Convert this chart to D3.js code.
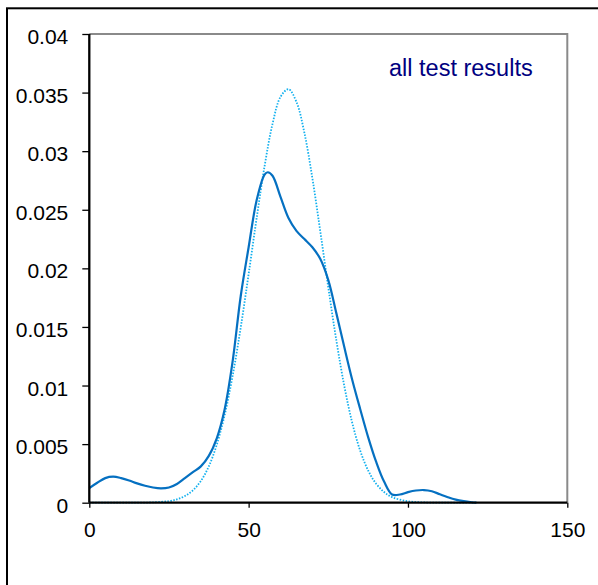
<!DOCTYPE html>
<html><head><meta charset="utf-8">
<script src="https://cdn.jsdelivr.net/npm/d3@7"></script>
<style>body{margin:0;background:#fff}svg{display:block}text{font-family:"Liberation Sans",Arial,sans-serif}</style>
</head><body><svg id="c" width="598" height="585"></svg>
<script>
const xTicks = [0, 50, 100, 150];
const yTicks = [0, 0.005, 0.01, 0.015, 0.02, 0.025, 0.03, 0.035, 0.04];
const yTickLabels = ["0", "0.005", "0.01", "0.015", "0.02", "0.025", "0.03", "0.035", "0.04"];
const legendLabel = "all test results";

// solid: kernel density of all test results
const densityX = [0, 2.5, 5, 7.5, 10, 12.5, 15, 17.5, 20, 22.5, 25, 27.5, 30, 32.5, 35, 37.5, 40, 42.5, 45, 47.5, 50, 52.5, 55, 56, 57.5, 60, 62.5, 65, 67.5, 70, 72.5, 75, 77.5, 80, 82.5, 85, 87.5, 90, 92.5, 95, 97.5, 100, 102.5, 105, 107.5, 110, 112.5, 115, 117.5, 120, 121.5];
const densityY = [0.00125, 0.0017, 0.0021, 0.00222, 0.0021, 0.0019, 0.00165, 0.00145, 0.0013, 0.00123, 0.0013, 0.0016, 0.0021, 0.0026, 0.0031, 0.0040, 0.0055, 0.0080, 0.0121, 0.0176, 0.0218, 0.0258, 0.0280, 0.0282, 0.0279, 0.0261, 0.0243, 0.0232, 0.0225, 0.0218, 0.0208, 0.0190, 0.0162, 0.0133, 0.0105, 0.0080, 0.0056, 0.0035, 0.0018, 0.0007, 0.0007, 0.0009, 0.00104, 0.00108, 0.00098, 0.00072, 0.00047, 0.00026, 0.00013, 0.00004, 0];

// dotted: fitted normal curve
const normalX = [0, 10, 15, 20, 25, 27.5, 30, 32.5, 35, 37.5, 40, 42.5, 45, 47.5, 50, 52.5, 55, 57.5, 60, 62.5, 65, 67.5, 70, 72.5, 75, 77.5, 80, 82.5, 85, 87.5, 90, 92.5, 95, 100, 105, 110, 115, 121.5];
const normalY = [0, 0.0000007, 0.000005, 0.00003, 0.00014, 0.00029, 0.00057, 0.00105, 0.00185, 0.0031, 0.00495, 0.00751, 0.01086, 0.01492, 0.01951, 0.02426, 0.02871, 0.03233, 0.03463, 0.03529, 0.03421, 0.03156, 0.0277, 0.02313, 0.01837, 0.01389, 0.00999, 0.00683, 0.00445, 0.00275, 0.00162, 0.00091, 0.00048, 0.00012, 0.000024, 0.000003, 0, 0];

const svg = d3.select("#c");
const L = 89.3, R = 567.3, T = 34, B = 502.7;
const x = d3.scaleLinear().domain([0, 150]).range([L, R]);
const y = d3.scaleLinear().domain([0, 0.04]).range([B, T]);

// outer border
svg.append("rect").attr("x", 7).attr("y", 8.3).attr("width", 620).attr("height", 620)
  .attr("fill", "none").attr("stroke", "#000").attr("stroke-width", 2);

// top & right plot border (gray)
svg.append("path").attr("d", `M${L},${T}H${R}V${B}`).attr("fill", "none")
  .attr("stroke", "#8a8a8a").attr("stroke-width", 2);

const line = d3.line().curve(d3.curveCatmullRom.alpha(0.5));

svg.append("path")
  .attr("d", line(normalX.map((v, i) => [x(v), y(normalY[i])])))
  .attr("fill", "none").attr("stroke", "#12B0EE").attr("stroke-width", 1.8)
  .attr("stroke-dasharray", "1.5,1.5");

svg.append("path")
  .attr("d", line(densityX.map((v, i) => [x(v), y(densityY[i])])))
  .attr("fill", "none").attr("stroke", "#0570C1").attr("stroke-width", 2.2);

// axes
const yAxis = d3.axisLeft(y).tickValues(yTicks).tickSize(7).tickFormat((d, i) => yTickLabels[i]);
const gy = svg.append("g").attr("transform", `translate(${L},0)`).call(yAxis);
gy.select(".domain").attr("stroke-width", 2.3).attr("d", `M0,${T}V${B}`);
gy.selectAll(".tick line").attr("stroke-width", 1.3);
gy.selectAll(".tick text").attr("x", -21).attr("dy", null).attr("y", 9.5)
  .attr("font-size", 21).attr("fill", "#000");

const xAxis = d3.axisBottom(x).tickValues(xTicks).tickSize(5).tickFormat(d3.format("d"));
const gx = svg.append("g").attr("transform", `translate(0,${B})`).call(xAxis);
gx.select(".domain").attr("stroke-width", 2.3).attr("d", `M${L},0H${R}`);
gx.selectAll(".tick line").attr("stroke-width", 1.3);
gx.selectAll(".tick text").attr("dy", null).attr("y", 34)
  .attr("font-size", 21).attr("fill", "#000");
svg.selectAll(".domain").attr("stroke", "#000");

svg.append("text").attr("x", 389).attr("y", 76).attr("font-size", 23.5)
  .attr("fill", "#000080").text(legendLabel);
</script></body></html>
